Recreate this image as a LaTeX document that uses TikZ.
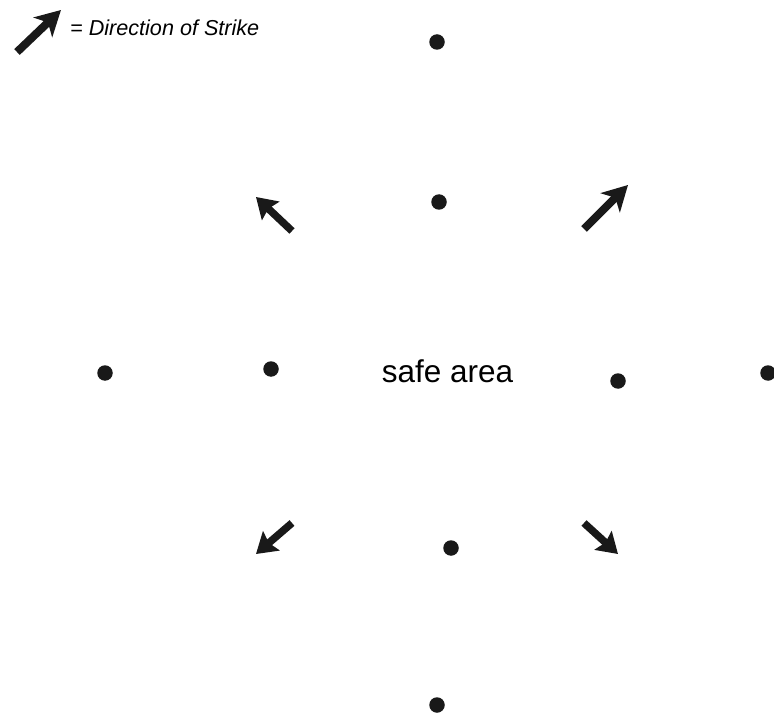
\documentclass[tikz,border=0pt]{standalone}
\usepackage{fontspec}
\setmainfont{Liberation Sans}
\usetikzlibrary{arrows.meta}
\begin{document}
\begin{tikzpicture}[x=1pt,y=-1pt,
  dot/.style={circle,fill=black!90,inner sep=0pt,minimum size=15.5pt},
  strike/.style={line width=8pt,draw=black!90,-{Stealth[length=25pt,width=27pt,inset=7pt]}},
  strikeb/.style={line width=7.5pt,draw=black!90,-{Stealth[length=20pt,width=25pt,inset=3pt]}}]
\useasboundingbox (0,0) rectangle (774,714);
% dots
\node[dot] (d1) at (437,42) {};
\node[dot] (d2) at (439,202) {};
\node[dot] (d3) at (105,373) {};
\node[dot] (d4) at (271,369) {};
\node[dot] (d5) at (618,381) {};
\node[dot] (d6) at (768,373) {};
\node[dot] (d7) at (451,548) {};
\node[dot] (d8) at (437,705) {};
% text
\node[anchor=base,inner sep=0pt,font=\fontsize{31.5}{36}\selectfont] (safe) at (447.5,382) {safe area};
\node[anchor=base west,inner sep=0pt,font=\fontsize{21.6}{25}\selectfont\itshape] (legend) at (70,36) {= Direction of Strike};
% arrow coordinates
\coordinate (la) at (17,52);
\coordinate (lb) at (61,10);
\coordinate (nwa) at (292,231);
\coordinate (nwb) at (256,197);
\coordinate (nea) at (584,229);
\coordinate (neb) at (628,185);
\coordinate (swa) at (292,523);
\coordinate (swb) at (256,554);
\coordinate (sea) at (584,523);
\coordinate (seb) at (618,554);
% arrows
\draw[strike] (la) -- (lb);
\draw[strike] (nea) -- (neb);
\draw[strikeb] (nwa) -- (nwb);
\draw[strikeb] (swa) -- (swb);
\draw[strikeb] (sea) -- (seb);
\end{tikzpicture}
\end{document}
